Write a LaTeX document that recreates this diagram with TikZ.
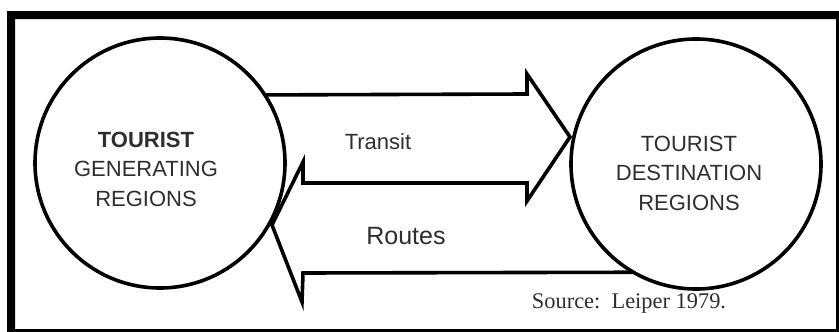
\documentclass[tikz,border=0pt]{standalone}
\usepackage{fontspec}
\setmainfont{Liberation Sans}
\newfontfamily\srcfont{Liberation Serif}
\definecolor{ink}{gray}{0.18}
\begin{document}
\begin{tikzpicture}[x=1pt,y=-1pt,
  region/.style={circle,draw=black,line width=3.6pt,minimum size=250pt,inner sep=0pt,outer sep=0pt},
  lbl/.style={align=center,text=ink,font=\fontsize{22}{29.5}\selectfont},
  flow/.style={draw=black,line width=3.6pt,line join=miter,miter limit=10}]
\useasboundingbox (0,0) rectangle (839,332);

% frame: heavy top and left edges, thin right and bottom edges
\fill[black,even odd rule] (7,11) rectangle (839,332) (15,19) rectangle (836,329);

% the two regions
\node[region] (gen) at (160,163) {};
\node[region] (dest) at (696,164) {};

% region labels
\node[lbl] (genlbl) at (146,169) {\textbf{TOURIST}\\GENERATING\\REGIONS};
\node[lbl] (destlbl) at (689,173) {TOURIST\\DESTINATION\\REGIONS};

% outline of the two opposed block arrows (one continuous path)
\coordinate (a0) at (gen.33.5);
\coordinate (a1) at (527,94);
\coordinate (a2) at (527,74);
\coordinate (tipR) at (570,137);
\coordinate (a3) at (527,201);
\coordinate (a4) at (527,183);
\coordinate (b1) at (303,183);
\coordinate (b2) at (303,162);
\coordinate (tipL) at (272,225);
\coordinate (b3) at (302,302);
\coordinate (b4) at (303,273);
\coordinate (b5) at (dest.240.7);
\draw[flow] (a0) -- (a1) -- (a2) -- (tipR) -- (a3) -- (a4) -- (b1) -- (b2)
  -- (tipL) -- (b3) -- (b4) -- (b5);

% arrow labels
\node[text=ink,font=\fontsize{22}{25}\selectfont] (transit) at (378,142) {Transit};
\node[text=ink,font=\fontsize{25}{29}\selectfont] (routes) at (406,236) {Routes};

% source note
\node[text=ink,font=\srcfont\fontsize{22.4}{26}\selectfont] (src) at (629,303) {Source:\ \ Leiper 1979.};
\end{tikzpicture}
\end{document}
